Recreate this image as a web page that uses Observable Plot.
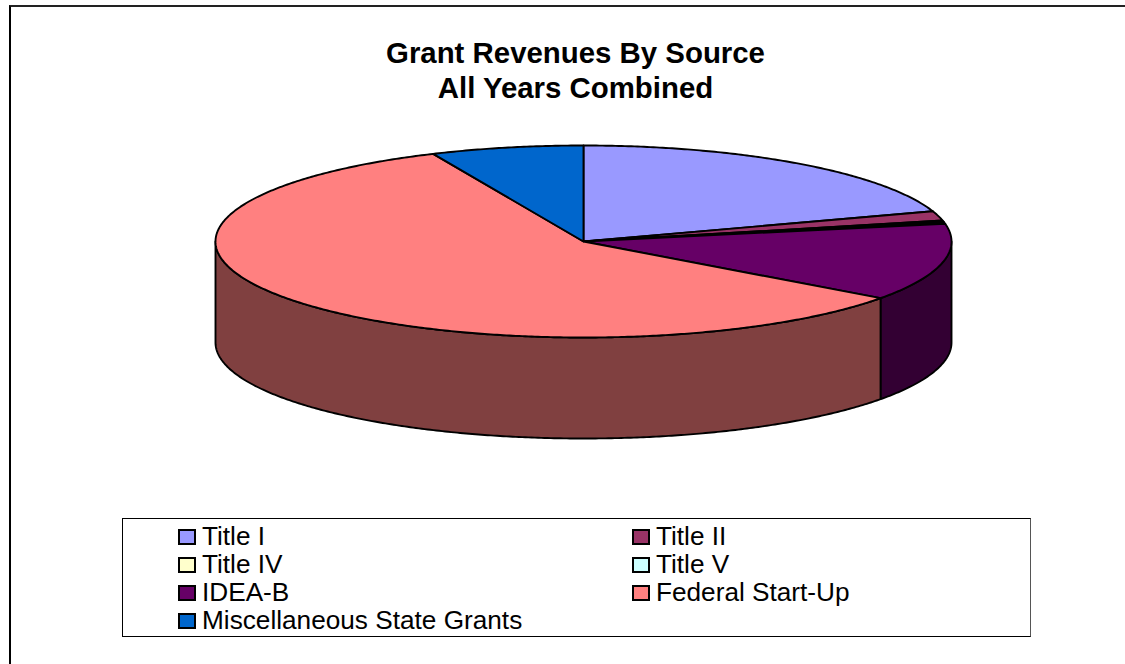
<!DOCTYPE html>
<html><head><meta charset="utf-8">
<script src="https://cdn.jsdelivr.net/npm/d3@7"></script>
<script src="https://cdn.jsdelivr.net/npm/@observablehq/plot@0.6"></script>
<style>
html,body{margin:0;padding:0;background:#fff;overflow:hidden}
#page{position:relative;width:1125px;height:664px;font-family:"Liberation Sans",Arial,sans-serif;color:#000;overflow:hidden}
#frame{position:absolute;left:9px;top:5px;width:1116px;height:659px;box-sizing:border-box;border-top:2px solid #222;border-left:2px solid #000}
#title{position:absolute;left:0;width:1151px;top:35px;text-align:center;font-weight:bold;font-size:29.4px;line-height:35px}
#chart{position:absolute;left:0;top:130px}
#legend{position:absolute;left:122px;top:518px;width:909px;height:119px;box-sizing:border-box;border:1px solid #000;border-right:1px solid #555}
.item{position:absolute;font-size:26.2px;line-height:28px;white-space:nowrap}
.sw{position:absolute;width:14px;height:12px;border:2px solid #000;left:-24px;top:7px;box-sizing:content-box}
</style></head><body>
<div id="page"><div id="frame"></div>
<div id="title"><div>Grant Revenues By Source</div><div>All Years Combined</div></div>
<div id="chart"></div><div id="legend"></div></div>
<script>
const categories = ["Title I","Title II","Title IV","Title V","IDEA-B","Federal Start-Up","Miscellaneous State Grants"];
const shares = [19.9,1.6,0.275,0.275,13.0,58.25,6.7];
const colors = ["#9999FF","#993366","#FFFFCC","#CCFFFF","#660066","#FF8080","#0066CC"];
const wallColors = ["#4C4C80","#4C1933","#808066","#668080","#330033","#804040","#003366"];
const depth = 101/96;

const total = d3.sum(shares);
let acc = 0;
const slices = categories.map((name,i)=>{
  const a0 = acc/total*360; acc += shares[i]; const a1 = acc/total*360;
  return {name,a0,a1,color:colors[i],wall:wallColors[i]};
});
const pt = a => [Math.sin(a*Math.PI/180), Math.cos(a*Math.PI/180)];
function arc(a0,a1){
  const n = Math.max(2,Math.ceil((a1-a0)*2)+1);
  return d3.range(n).map(k=>pt(a0+(a1-a0)*k/(n-1)));
}
const walls=[], tops=[];
for(const s of slices){
  const lo=Math.max(s.a0,90), hi=Math.min(s.a1,270);
  if(hi>lo){
    const t=arc(lo,hi);
    [...t.map(([x,y])=>({x,y})), ...t.reverse().map(([x,y])=>({x,y:y-depth}))]
      .forEach(p=>walls.push({...p,z:s.name,fill:s.wall}));
  }
  [[0,0],...arc(s.a0,s.a1)].forEach(([x,y])=>tops.push({x,y,z:s.name,fill:s.color}));
}
const top0=130;
const opts={x:"x",y:"y",z:"z",fill:"fill",stroke:"#000",strokeWidth:1.9,curve:"linear-closed",strokeLinejoin:"round"};
const svg = Plot.plot({
  width:1125,height:320,margin:0,
  x:{domain:[-1,1],range:[215,951],axis:null},
  y:{domain:[1,-1],range:[145-top0,337-top0],axis:null},
  color:{type:"identity"},
  marks:[Plot.line(walls,opts),Plot.line(tops,opts)]
});
svg.style.background="transparent";
document.getElementById("chart").appendChild(svg);

const legend=document.getElementById("legend");
categories.forEach((c,i)=>{
  const col=i%2,row=Math.floor(i/2);
  const el=document.createElement("div");el.className="item";
  el.style.left=(col?533:79)+"px";el.style.top=(2.5+row*28.3)+"px";
  el.textContent=c;
  const sw=document.createElement("span");sw.className="sw";sw.style.background=colors[i];
  el.appendChild(sw);legend.appendChild(el);
});
</script></body></html>
